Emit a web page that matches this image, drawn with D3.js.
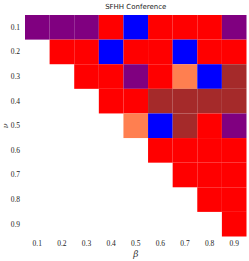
<!DOCTYPE html>
<html>
<head>
<meta charset="utf-8">
<script src="https://cdn.jsdelivr.net/npm/d3@7"></script>
<style>
  body { margin: 0; background: #fff; }
  .tick text { font-family: "Liberation Serif", serif; font-size: 7.5px; fill: #222; }
</style>
</head>
<body>
<div id="chart"></div>
<script>
// beta on x, nu on y
const betas = ["0.1", "0.2", "0.3", "0.4", "0.5", "0.6", "0.7", "0.8", "0.9"];
const nus = ["0.1", "0.2", "0.3", "0.4", "0.5", "0.6", "0.7", "0.8", "0.9"];

// category per row (nu), starting at beta == nu
const P = "purple", R = "red", B = "blue", C = "coral", W = "brown";
const rows = [
  [P, P, P, R, B, R, R, R, P],
  [R, R, B, R, R, B, R, R],
  [R, R, P, R, C, B, W],
  [R, R, W, W, W, W],
  [C, B, W, R, P],
  [R, R, R, R],
  [R, R, R],
  [R, R],
  [R]
];

const colors = { purple: "#800080", red: "#ff0000", blue: "#0000ff", coral: "#ff7f50", brown: "#a52a2a" };

const cells = [];
rows.forEach((r, i) => {
  r.forEach((c, k) => cells.push({ nu: nus[i], beta: betas[i + k], cat: c }));
});

const width = 249, height = 261;
const margin = { top: 15, right: 2.5, bottom: 24.5, left: 25 };

const svg = d3.select("#chart").append("svg")
  .attr("width", width)
  .attr("height", height);

const x = d3.scaleBand().domain(betas).range([margin.left, width - margin.right]);
const y = d3.scaleBand().domain(nus).range([margin.top, height - margin.bottom]);

svg.append("g")
  .selectAll("rect")
  .data(cells)
  .join("rect")
  .attr("x", d => x(d.beta))
  .attr("y", d => y(d.nu))
  .attr("width", x.bandwidth())
  .attr("height", y.bandwidth())
  .attr("fill", d => colors[d.cat]);

// axes
svg.append("g")
  .attr("transform", `translate(0,${height - margin.bottom})`)
  .call(d3.axisBottom(x).tickSize(0).tickPadding(4))
  .call(g => g.select(".domain").remove());

svg.append("g")
  .attr("transform", `translate(${margin.left},0)`)
  .call(d3.axisLeft(y).tickSize(0).tickPadding(5))
  .call(g => g.select(".domain").remove());

// labels
svg.append("text")
  .attr("x", (margin.left + width - margin.right) / 2)
  .attr("y", 9)
  .attr("text-anchor", "middle")
  .style("font-family", "'DejaVu Sans', sans-serif")
  .style("font-size", "7px")
  .attr("fill", "#222")
  .text("SFHH Conference");

svg.append("text")
  .attr("x", (margin.left + width - margin.right) / 2)
  .attr("y", 257)
  .attr("text-anchor", "middle")
  .style("font-family", "'DejaVu Serif', serif")
  .style("font-style", "italic")
  .style("font-size", "9px")
  .attr("fill", "#333")
  .text("β");

svg.append("text")
  .attr("transform", `translate(8,${y("0.5") + y.bandwidth() / 2}) rotate(-90)`)
  .attr("text-anchor", "middle")
  .style("font-family", "'DejaVu Serif', serif")
  .style("font-style", "italic")
  .style("font-size", "8px")
  .attr("fill", "#333")
  .text("ν");
</script>
</body>
</html>
